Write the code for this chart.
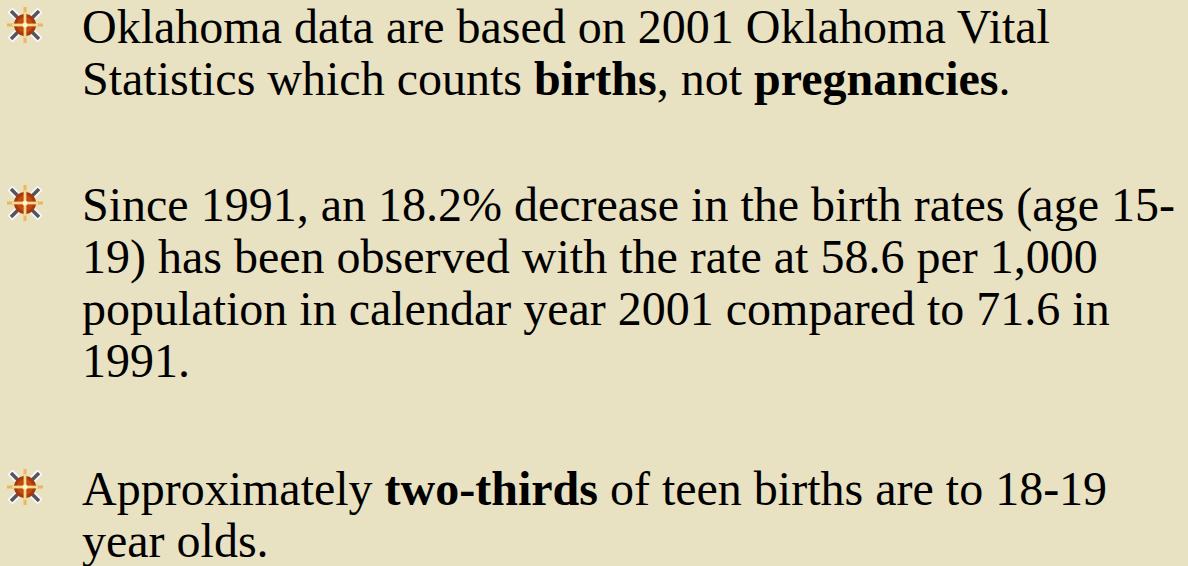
<!DOCTYPE html>
<html>
<head>
<meta charset="utf-8">
<script src="https://cdn.jsdelivr.net/npm/chart.js"></script>
<style>
  html, body { margin: 0; padding: 0; }
  body {
    width: 1188px; height: 566px; overflow: hidden; position: relative;
    background: #e8e1c2;
    font-family: "Liberation Serif", "Times New Roman", serif;
    color: #000;
  }
  .item { position: absolute; left: 82px; font-size: 48px; line-height: 52px; white-space: nowrap; }
  .bullet { position: absolute; left: 6px; width: 38px; height: 38px; }
</style>
</head>
<body>
<div id="slide"></div>
<script>
// slide content: bullets and their lines (text only, no numeric series here)
const bulletLines = [
  ['Oklahoma data are based on 2001 Oklahoma Vital',
   'Statistics which counts <b>births</b>, not <b>pregnancies</b>.'],
  ['Since 1991, an 18.2% decrease in the birth rates (age 15-',
   '19) has been observed with the rate at 58.6 per 1,000',
   'population in calendar year 2001 compared to 71.6 in',
   '1991.'],
  ['Approximately <b>two-thirds</b> of teen births are to 18-19',
   'year olds.']
];
const bulletTops = [1, 179, 463];

const starIcon = `
<svg class="bullet" viewBox="0 0 38 38" xmlns="http://www.w3.org/2000/svg">
  <g stroke-linecap="butt">
    <line x1="4" y1="4" x2="34" y2="34" stroke="#fafafa" stroke-width="7"/>
    <line x1="34" y1="4" x2="4" y2="34" stroke="#fafafa" stroke-width="7"/>
    <line x1="5" y1="5" x2="33" y2="33" stroke="#55555c" stroke-width="3.5"/>
    <line x1="33" y1="5" x2="5" y2="33" stroke="#55555c" stroke-width="3.5"/>
  </g>
  <circle cx="19" cy="19" r="11" fill="#a8380c"/>
  <circle cx="19" cy="19" r="8" fill="#c04a14"/>
  <line x1="19" y1="1" x2="19" y2="37" stroke="#e8b85a" stroke-width="3"/>
  <line x1="1" y1="19" x2="37" y2="19" stroke="#e8b85a" stroke-width="3"/>
  <line x1="19" y1="6" x2="19" y2="32" stroke="#fff0b8" stroke-width="1.2"/>
  <line x1="6" y1="19" x2="32" y2="19" stroke="#fff0b8" stroke-width="1.2"/>
  <circle cx="19" cy="19" r="2.5" fill="#fff6d0"/>
</svg>`;

const slide = document.getElementById('slide');
bulletLines.forEach((lines, i) => {
  const div = document.createElement('div');
  div.className = 'item';
  div.style.top = bulletTops[i] + 'px';
  div.innerHTML = lines.join('<br>');
  slide.appendChild(div);
  const b = document.createElement('div');
  b.innerHTML = starIcon;
  const svg = b.firstElementChild;
  svg.style.top = (bulletTops[i] + 5) + 'px';
  slide.appendChild(svg);
});
</script>
</body>
</html>
